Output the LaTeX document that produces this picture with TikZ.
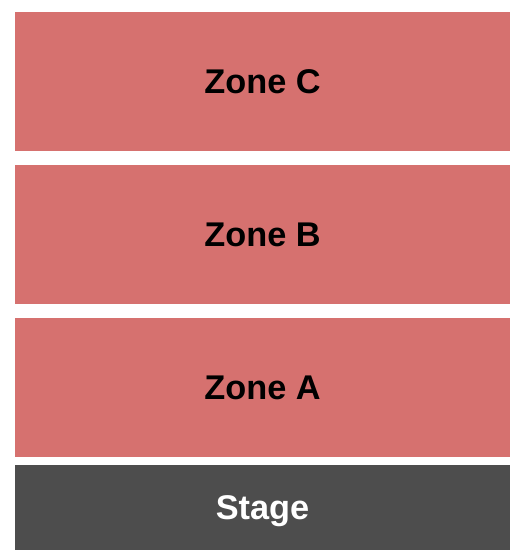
\documentclass[tikz,border=0pt]{standalone}
\usepackage{fontspec}
\setmainfont{Liberation Sans}
\definecolor{zonecol}{HTML}{D6716F}
\definecolor{stagecol}{HTML}{4D4D4D}
\begin{document}
\begin{tikzpicture}[x=1pt,y=-1pt,
  basebox/.style={draw=none,minimum width=495pt,inner sep=0pt,
    text height=24.5pt,text depth=-1.5pt,
    font=\fontsize{34.3}{40}\selectfont\bfseries},
  zonebox/.style={basebox,fill=zonecol,minimum height=139pt,text=black},
  stagebox/.style={basebox,fill=stagecol,minimum height=85pt,text=white}]
\useasboundingbox[fill=white] (0,0) rectangle (525,560);
\node[zonebox] (zc) at (262.5,81.5) {Zone C};
\node[zonebox] (zb) at (262.5,234.5) {Zone B};
\node[zonebox] (za) at (262.5,387.5) {Zone A};
\node[stagebox] (st) at (262.5,507.5) {Stage};
\end{tikzpicture}
\end{document}
